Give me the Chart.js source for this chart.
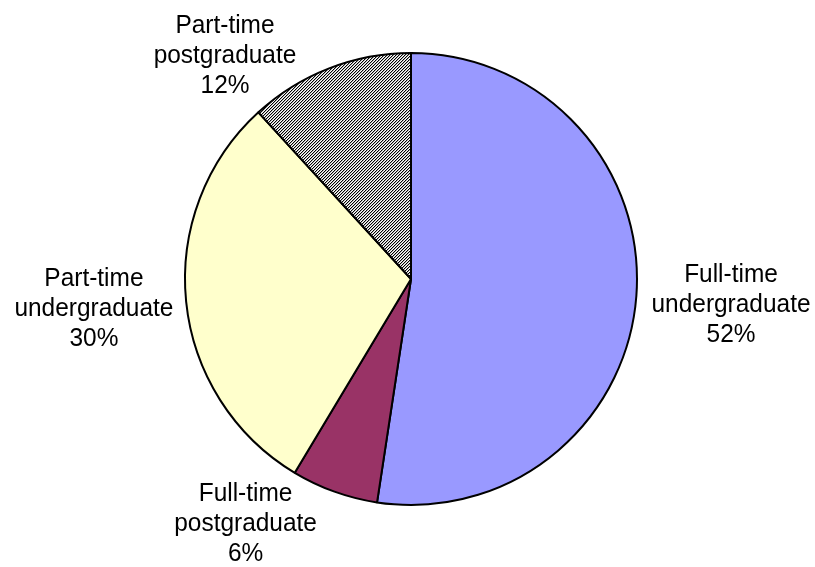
<!DOCTYPE html>
<html>
<head>
<meta charset="utf-8">
<script src="https://cdn.jsdelivr.net/npm/chart.js@4/dist/chart.umd.min.js"></script>
<style>
  html, body { margin: 0; padding: 0; background: #fff; }
  #wrap { width: 815px; height: 567px; }
</style>
</head>
<body>
<div id="wrap"><canvas id="c" width="815" height="567"></canvas></div>
<script>
const categories = ["Full-time undergraduate", "Full-time postgraduate", "Part-time undergraduate", "Part-time postgraduate"];
const values = [52.4, 6.2, 29.6, 11.8];

// label placement relative to pie centre, in units of the pie radius
const labelOffsets = [[1.416, 0.146], [-0.732, 1.115], [-1.403, 0.164], [-0.823, -0.956]];

function hatch() {
  const n = 3;
  const p = document.createElement('canvas');
  p.width = n * 4; p.height = n * 4;
  const g = p.getContext('2d');
  g.fillStyle = '#ffffff';
  g.fillRect(0, 0, p.width, p.height);
  g.fillStyle = '#000000';
  for (let y = 0; y < p.height; y++) {
    for (let x = 0; x < p.width; x++) {
      if ((x + y) % n === 0) g.fillRect(x, y, 1, 1);
    }
  }
  g.fillStyle = 'rgba(0,0,0,0.3)';
  for (let y = 0; y < p.height; y++) {
    for (let x = 0; x < p.width; x++) {
      if ((x + y) % n === 1) g.fillRect(x, y, 1, 1);
    }
  }
  return g.createPattern(p, 'repeat');
}

const ctx = document.getElementById('c').getContext('2d');
const colors = ['#9999FF', '#993366', '#FFFFCC', hatch()];

const labelPlugin = {
  id: 'outLabels',
  afterDatasetsDraw(chart) {
    const meta = chart.getDatasetMeta(0);
    const total = values.reduce((a, b) => a + b, 0);
    const c = chart.ctx;
    c.save();
    c.fillStyle = '#000';
    c.font = '26px "Liberation Sans", Arial, sans-serif';
    c.textAlign = 'center';
    c.textBaseline = 'alphabetic';
    meta.data.forEach((arc, i) => {
      const r = arc.outerRadius;
      const x = arc.x + labelOffsets[i][0] * r;
      const y = arc.y + labelOffsets[i][1] * r;
      const lines = categories[i].split(' ').concat([Math.round(values[i] / total * 100) + '%']);
      lines.forEach((t, k) => {
        c.save();
        c.translate(x, y + (k - 1) * 30);
        c.scale(0.94, 1);
        c.fillText(t, 0, 0);
        c.restore();
      });
    });
    c.restore();
  }
};

new Chart(ctx, {
  type: 'pie',
  data: {
    labels: categories,
    datasets: [{
      data: values,
      backgroundColor: colors,
      borderColor: '#000000',
      borderWidth: 2,
      hoverOffset: 0
    }]
  },
  options: {
    responsive: false,
    animation: false,
    layout: { padding: { left: 184, right: 177, top: 52, bottom: 61 } },
    plugins: { legend: { display: false }, tooltip: { enabled: false } }
  },
  plugins: [labelPlugin]
});
</script>
</body>
</html>
